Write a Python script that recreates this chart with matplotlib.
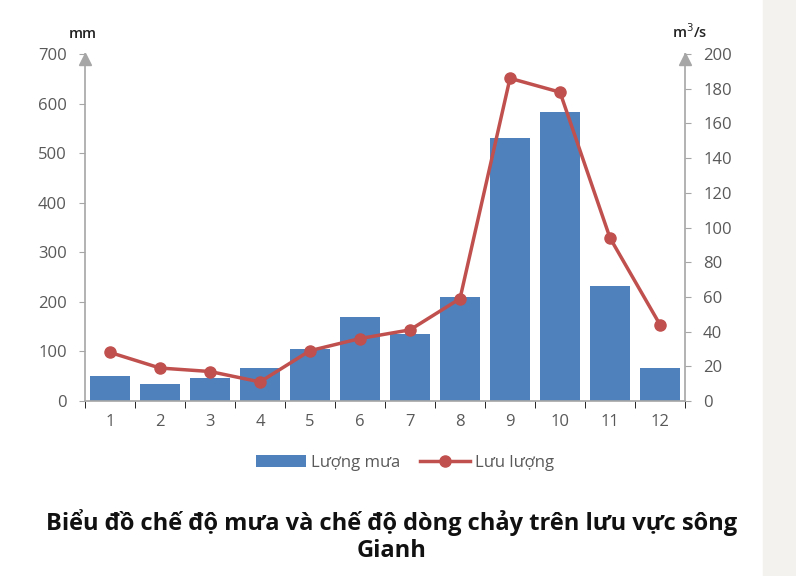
import matplotlib.pyplot as plt
from matplotlib.patches import Rectangle

plt.rcParams['font.family'] = ['Open Sans', 'DejaVu Sans']

# data
months = [1, 2, 3, 4, 5, 6, 7, 8, 9, 10, 11, 12]
rain = [50, 34, 46, 66, 105, 170, 135, 210, 530, 583, 232, 66]
flow = [28, 19, 17, 11, 29, 36, 41, 59, 186, 178, 94, 44]

grey = '#595959'
axis_col = '#a6a6a6'

fig = plt.figure(figsize=(7.96, 5.76), dpi=100)
# light strip at the right edge of the page
fig.patches.append(Rectangle((763 / 796, 0), 1, 1, transform=fig.transFigure,
                             color='#f3f2ee', zorder=0))

ax = fig.add_axes([85 / 796, 1 - 401 / 576, 600 / 796, 347 / 576])
ax2 = ax.twinx()

bars = ax.bar(months, rain, width=0.8, color='#4f81bd', label='Lượng mưa', zorder=2)
line, = ax2.plot(months, flow, color='#c0504d', lw=2.5, marker='o', ms=8,
                 label='Lưu lượng')

ax.set_xlim(0.5, 12.5)
ax.set_ylim(0, 700)
ax2.set_ylim(0, 200)
ax.set_yticks(range(0, 701, 100))
ax2.set_yticks(range(0, 201, 20))
ax.set_xticks(months)
ax.set_xticks([m + 0.5 for m in range(0, 13)], minor=True)

for a in (ax, ax2):
    a.spines['top'].set_visible(False)
    for s in a.spines.values():
        s.set_color(axis_col)
        s.set_linewidth(1.2)
    a.tick_params(labelsize=12, labelcolor=grey, color=axis_col)
ax.spines['right'].set_visible(False)
ax2.spines['left'].set_visible(False)
ax2.spines['bottom'].set_visible(False)
ax.tick_params(axis='x', which='major', length=0, pad=9)
ax.tick_params(axis='x', which='minor', length=5)
ax.tick_params(axis='y', length=4, pad=9)
ax2.tick_params(axis='y', length=4, pad=9)

# arrow heads on the vertical axes
ax.plot([0], [0.985], marker='^', ms=8, color=axis_col, transform=ax.transAxes, clip_on=False)
ax.plot([1], [0.985], marker='^', ms=8, color=axis_col, transform=ax.transAxes, clip_on=False)

fig.text(83 / 796, 1 - 34 / 576, 'mm', ha='center', va='center', fontsize=10.5,
         fontweight='semibold', color='#222222')
fig.text(690 / 796, 1 - 32 / 576, 'm$^3$/s', ha='center', va='center', fontsize=10.5,
         fontweight='semibold', color='#222222')

fig.legend(handles=[bars, line], loc='center', bbox_to_anchor=(405 / 796, 1 - 463 / 576),
           ncol=2, frameon=False, fontsize=12, handlelength=3, columnspacing=1.2,
           handletextpad=0.3, labelcolor=grey)

fig.text(392 / 796, 1 - 536 / 576,
         'Biểu đồ chế độ mưa và chế độ dòng chảy trên lưu vực sông\nGianh',
         ha='center', va='center', fontsize=17, fontweight='bold', color='#111111',
         linespacing=1.2)

fig.savefig('out.png', dpi=100)
